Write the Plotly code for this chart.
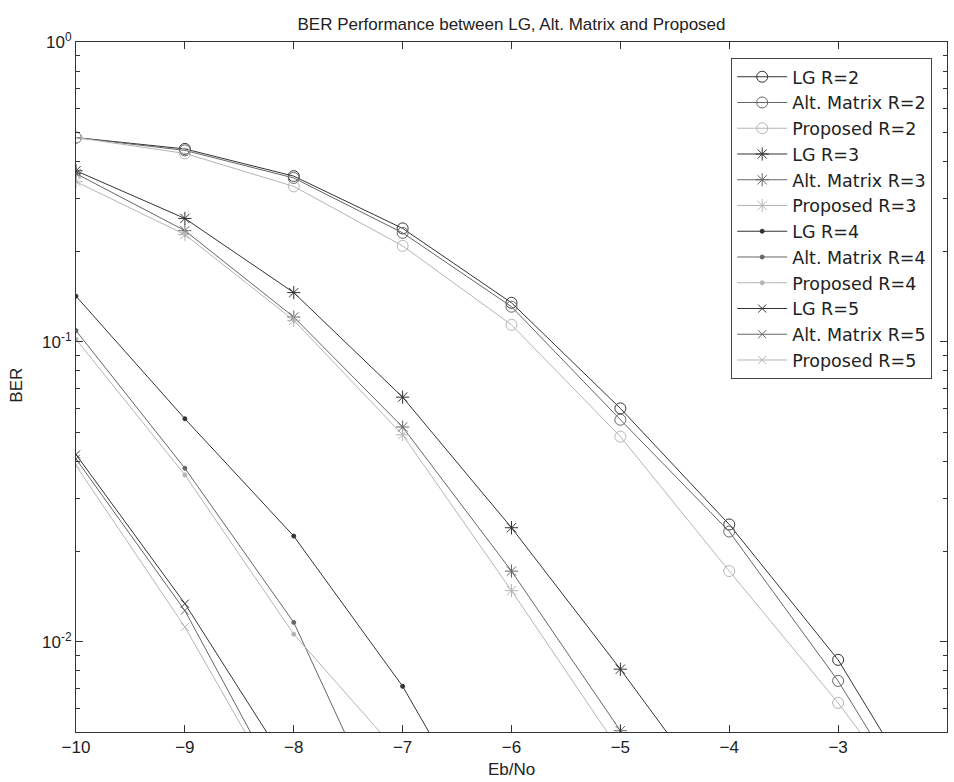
import plotly.graph_objects as go
import math

# ---- data ----
eb_no = [-10, -9, -8, -7, -6, -5, -4, -3, -2]

lg_r2 = [0.48, 0.44, 0.357, 0.239, 0.135, 0.060, 0.0246, 0.0087, 0.0022]
alt_r2 = [0.48, 0.435, 0.352, 0.231, 0.131, 0.055, 0.0233, 0.0074, 0.0019]
prop_r2 = [0.48, 0.425, 0.330, 0.209, 0.114, 0.0483, 0.0172, 0.00625, 0.00205]

lg_r3 = [0.372, 0.258, 0.146, 0.0654, 0.0240, 0.0081, 0.0026]
alt_r3 = [0.364, 0.235, 0.121, 0.052, 0.0172, 0.00505, 0.0014]
prop_r3 = [0.342, 0.228, 0.118, 0.049, 0.0148, 0.0043]

lg_r4 = [0.142, 0.0554, 0.0225, 0.0071, 0.00166]
alt_r4 = [0.109, 0.0379, 0.0116, 0.0019]
prop_r4 = [0.102, 0.036, 0.0106, 0.0041]

lg_r5 = [0.0421, 0.0134, 0.0036]
alt_r5 = [0.0407, 0.0127, 0.0027]
prop_r5 = [0.0387, 0.0112, 0.0026]

x_ticks = [-10, -9, -8, -7, -6, -5, -4, -3, -2]
y_ticks = [1, 0.1, 0.01]
y_ticktext = ["10<sup>0</sup>", "10<sup>-1</sup>", "10<sup>-2</sup>"]
y_minor = [0.006, 0.007, 0.008, 0.009,
           0.02, 0.03, 0.04, 0.05, 0.06, 0.07, 0.08, 0.09,
           0.2, 0.3, 0.4, 0.5, 0.6, 0.7, 0.8, 0.9]

title_text = "BER Performance between LG, Alt. Matrix and Proposed"

# ---- styles ----
C_LG = "#333333"
C_ALT = "#666666"
C_PROP = "#b5b5b5"

series = [
    ("LG R=2", lg_r2, C_LG, "circle-open", 11),
    ("Alt. Matrix R=2", alt_r2, C_ALT, "circle-open", 11),
    ("Proposed R=2", prop_r2, C_PROP, "circle-open", 11),
    ("LG R=3", lg_r3, C_LG, "asterisk-open", 11),
    ("Alt. Matrix R=3", alt_r3, C_ALT, "asterisk-open", 11),
    ("Proposed R=3", prop_r3, C_PROP, "asterisk-open", 11),
    ("LG R=4", lg_r4, C_LG, "circle", 4),
    ("Alt. Matrix R=4", alt_r4, C_ALT, "circle", 4),
    ("Proposed R=4", prop_r4, C_PROP, "circle", 4),
    ("LG R=5", lg_r5, C_LG, "x-thin-open", 8),
    ("Alt. Matrix R=5", alt_r5, C_ALT, "x-thin-open", 8),
    ("Proposed R=5", prop_r5, C_PROP, "x-thin-open", 8),
]

fig = go.Figure()
for name, vals, col, sym, size in series:
    fig.add_trace(go.Scatter(
        x=eb_no[:len(vals)], y=vals, name=name, mode="lines+markers",
        line=dict(color=col, width=1),
        marker=dict(symbol=sym, size=size, color=col, line=dict(color=col, width=1)),
    ))

FONT = "Liberation Sans, Arial, Helvetica, sans-serif"
LEGEND_FONT = "DejaVu Sans, Liberation Sans, Arial, sans-serif"
axis_common = dict(
    showline=True, linecolor="#333", linewidth=1, mirror="ticks",
    ticks="inside", ticklen=7, tickcolor="#333", tickwidth=1,
    showgrid=False, zeroline=False,
    tickfont=dict(family=FONT, size=17, color="#222"),
)

fig.update_layout(
    width=954, height=782,
    margin=dict(l=76, r=7, t=42, b=50),
    plot_bgcolor="white", paper_bgcolor="white",
    font=dict(family=FONT, color="#222"),
    title=dict(text=title_text, x=0.5, xref="paper", xanchor="center",
               y=1 - 24 / 782, yref="container", yanchor="middle",
               font=dict(family=FONT, size=17, color="#222")),
    xaxis=dict(range=[-10, -2], tickvals=x_ticks, **axis_common),
    yaxis=dict(type="log", range=[math.log10(0.005), 0],
               tickvals=y_ticks, ticktext=y_ticktext,
               minor=dict(tickvals=y_minor, ticks="inside", ticklen=4,
                          tickcolor="#333", showgrid=False),
               **axis_common),
    legend=dict(x=0.983, y=0.977, xanchor="right", yanchor="top",
                bgcolor="white", bordercolor="#444", borderwidth=1,
                font=dict(family=LEGEND_FONT, size=17.5, color="#222"),
                itemwidth=50, tracegroupgap=0),
    showlegend=True,
    annotations=[
        dict(text="Eb/No", xref="paper", yref="paper", x=0.5, y=-0.055,
             xanchor="center", yanchor="middle", showarrow=False,
             font=dict(family=FONT, size=17, color="#222")),
        dict(text="BER", xref="paper", yref="paper", x=-0.068, y=0.503,
             xanchor="center", yanchor="middle", showarrow=False, textangle=-90,
             font=dict(family=FONT, size=17, color="#222")),
    ],
)

fig.write_html("out.html")
